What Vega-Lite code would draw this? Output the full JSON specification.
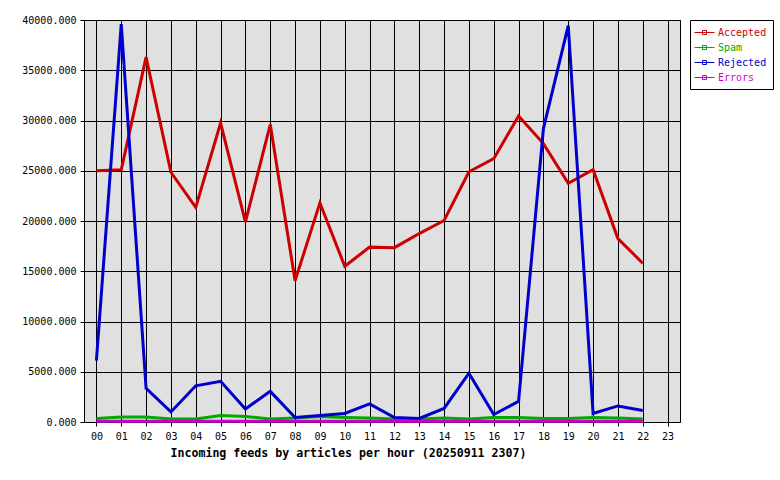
{
  "$schema": "https://vega.github.io/schema/vega-lite/v6.json",
  "autosize": {"type": "none"},
  "padding": {"left": 84, "top": 20, "right": 100, "bottom": 58},
  "width": 596,
  "height": 402,
  "background": "white",
  "config": {
    "view": {"fill": "#e0e0e0", "stroke": "black", "strokeWidth": 1},
    "axis": {
      "labelFont": "DejaVu Sans Mono",
      "labelFontSize": 10,
      "labelColor": "black",
      "tickColor": "black",
      "tickSize": 4,
      "domainColor": "black",
      "gridColor": "black",
      "gridOpacity": 1,
      "gridWidth": 1,
      "titleFont": "DejaVu Sans Mono",
      "titleFontWeight": "bold",
      "titleColor": "black"
    }
  },
  "data": {
    "values": [
      {"hour": "00", "Accepted": 25000, "Spam": 350, "Rejected": 6100, "Errors": 80},
      {"hour": "01", "Accepted": 25100, "Spam": 500, "Rejected": 39600, "Errors": 80},
      {"hour": "02", "Accepted": 36300, "Spam": 500, "Rejected": 3350, "Errors": 80},
      {"hour": "03", "Accepted": 24850, "Spam": 300, "Rejected": 1000, "Errors": 80},
      {"hour": "04", "Accepted": 21350, "Spam": 300, "Rejected": 3600, "Errors": 80},
      {"hour": "05", "Accepted": 29750, "Spam": 650, "Rejected": 4050, "Errors": 80},
      {"hour": "06", "Accepted": 19900, "Spam": 550, "Rejected": 1300, "Errors": 80},
      {"hour": "07", "Accepted": 29600, "Spam": 300, "Rejected": 3050, "Errors": 80},
      {"hour": "08", "Accepted": 14050, "Spam": 400, "Rejected": 450, "Errors": 80},
      {"hour": "09", "Accepted": 21800, "Spam": 550, "Rejected": 650, "Errors": 80},
      {"hour": "10", "Accepted": 15500, "Spam": 450, "Rejected": 850, "Errors": 80},
      {"hour": "11", "Accepted": 17400, "Spam": 400, "Rejected": 1800, "Errors": 80},
      {"hour": "12", "Accepted": 17350, "Spam": 300, "Rejected": 450, "Errors": 80},
      {"hour": "13", "Accepted": 18750, "Spam": 300, "Rejected": 350, "Errors": 80},
      {"hour": "14", "Accepted": 20050, "Spam": 400, "Rejected": 1350, "Errors": 80},
      {"hour": "15", "Accepted": 24900, "Spam": 300, "Rejected": 4850, "Errors": 80},
      {"hour": "16", "Accepted": 26200, "Spam": 450, "Rejected": 750, "Errors": 80},
      {"hour": "17", "Accepted": 30450, "Spam": 450, "Rejected": 2050, "Errors": 80},
      {"hour": "18", "Accepted": 27700, "Spam": 350, "Rejected": 29200, "Errors": 80},
      {"hour": "19", "Accepted": 23750, "Spam": 350, "Rejected": 39450, "Errors": 80},
      {"hour": "20", "Accepted": 25100, "Spam": 450, "Rejected": 850, "Errors": 80},
      {"hour": "21", "Accepted": 18250, "Spam": 400, "Rejected": 1600, "Errors": 80},
      {"hour": "22", "Accepted": 15800, "Spam": 300, "Rejected": 1150, "Errors": 80}
    ]
  },
  "transform": [
    {"fold": ["Accepted", "Spam", "Rejected", "Errors"], "as": ["series", "value"]}
  ],
  "mark": {"type": "line", "strokeWidth": 3, "interpolate": "linear"},
  "encoding": {
    "x": {
      "field": "hour",
      "type": "ordinal",
      "scale": {
        "type": "point",
        "padding": 0.5,
        "domain": ["00","01","02","03","04","05","06","07","08","09","10","11","12","13","14","15","16","17","18","19","20","21","22","23"]
      },
      "axis": {
        "title": "Incoming feeds by articles per hour (20250911 2307)",
        "titleFontSize": 11.6,
        "titleAnchor": "start",
        "titleAlign": "left",
        "titleX": 86,
        "titleY": 34,
        "titleBaseline": "alphabetic",
        "labelAngle": 0,
        "labelPadding": 5,
        "grid": true
      }
    },
    "y": {
      "field": "value",
      "type": "quantitative",
      "scale": {"domain": [0, 40000], "nice": false},
      "axis": {
        "title": null,
        "values": [0, 5000, 10000, 15000, 20000, 25000, 30000, 35000, 40000],
        "format": ".3f",
        "labelPadding": 4,
        "grid": true
      }
    },
    "color": {
      "field": "series",
      "type": "nominal",
      "scale": {
        "domain": ["Accepted", "Spam", "Rejected", "Errors"],
        "range": ["#cc0000", "#00aa00", "#0000cc", "#cc00cc"]
      },
      "legend": {
        "orient": "none",
        "legendX": 606,
        "legendY": 0,
        "title": null,
        "strokeColor": "black",
        "fillColor": "white",
        "padding": 6,
        "symbolType": "M-1.333,0H2M0,-0.333H0.667V0.333H0Z",
        "symbolSize": 144,
        "symbolStrokeWidth": 1,
        "labelFont": "DejaVu Sans Mono",
        "labelFontSize": 10,
        "labelOffset": 9,
        "rowPadding": 3,
        "encode": {
          "labels": {"update": {"fill": {"scale": "color", "field": "value"}}},
          "symbols": {"update": {"fill": {"value": "transparent"}}}
        }
      }
    }
  }
}
